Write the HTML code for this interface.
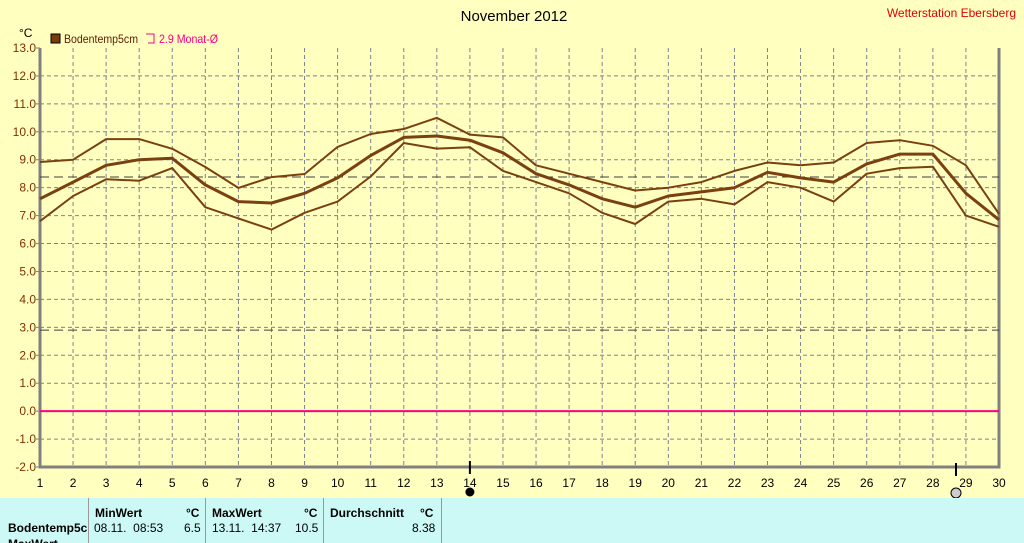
<!DOCTYPE html>
<html><head><meta charset="utf-8"><style>
body{margin:0;width:1024px;height:543px;overflow:hidden;background:#ffffc0;font-family:"Liberation Sans",sans-serif;}
#wrap{position:relative;width:1024px;height:543px;overflow:hidden;}
.tbl{position:absolute;left:0;top:498px;width:1024px;height:45px;background:#ccf9f6;font-size:12px;overflow:hidden;}
.t{position:absolute;white-space:nowrap;}
.b{font-weight:bold;}
.vl{position:absolute;top:0;width:1px;height:45px;background:#999;}
</style></head><body>
<div id="wrap">
<svg id="chart" width="1024" height="498" style="position:absolute;left:0;top:0"></svg>
<div class="tbl">
<div class="t b" style="left:8px;top:23px;width:80px;overflow:hidden">Bodentemp5cm</div>
<div class="t b" style="left:8px;top:39px">MaxWert</div>
<div class="vl" style="left:88px"></div><div class="vl" style="left:205px"></div><div class="vl" style="left:323px"></div><div class="vl" style="left:441px"></div>
<div class="t b" style="left:95px;top:8px">MinWert</div>
<div class="t b" style="left:186px;top:8px">°C</div>
<div class="t b" style="left:212px;top:8px">MaxWert</div>
<div class="t b" style="left:304px;top:8px">°C</div>
<div class="t b" style="left:330px;top:8px">Durchschnitt</div>
<div class="t b" style="left:420px;top:8px">°C</div>
<div class="t" style="left:94px;top:23px">08.11.&nbsp; 08:53</div>
<div class="t" style="left:184px;top:23px">6.5</div>
<div class="t" style="left:212px;top:23px">13.11.&nbsp; 14:37</div>
<div class="t" style="left:295px;top:23px">10.5</div>
<div class="t" style="left:412px;top:23px">8.38</div>
</div>
</div>
<script>
const days=[1,2,3,4,5,6,7,8,9,10,11,12,13,14,15,16,17,18,19,20,21,22,23,24,25,26,27,28,29,30];
const maxVals=[8.92,9.0,9.74,9.74,9.39,8.74,7.99,8.38,8.49,9.46,9.92,10.1,10.5,9.9,9.8,8.8,8.5,8.2,7.9,8.0,8.2,8.6,8.9,8.8,8.9,9.6,9.7,9.5,8.8,7.06];
const meanVals=[7.6,8.2,8.8,9.0,9.05,8.1,7.5,7.45,7.8,8.35,9.15,9.8,9.85,9.7,9.25,8.5,8.1,7.6,7.3,7.7,7.85,8.0,8.55,8.35,8.2,8.85,9.2,9.2,7.8,6.85];
const minVals=[6.8,7.7,8.3,8.25,8.7,7.3,6.9,6.5,7.1,7.5,8.4,9.6,9.4,9.45,8.6,8.2,7.8,7.1,6.7,7.5,7.6,7.4,8.2,8.0,7.5,8.5,8.7,8.75,7.0,6.6];
const yTicks=[13,12,11,10,9,8,7,6,5,4,3,2,1,0,-1,-2];
const monthAvg=8.38, refLine=2.9;
const L=40,R=999,T=48,B=467;
const x=d=>L+(d-1)*(R-L)/29;
const y=v=>B-(v+2)*(B-T)/15;
const svg=document.getElementById('chart');
const NS='http://www.w3.org/2000/svg';
function mk(tag,at,txt){const e=document.createElementNS(NS,tag);for(const k in at)e.setAttribute(k,at[k]);if(txt!==undefined)e.textContent=txt;svg.appendChild(e);return e;}
let e;
e=mk('text',{x:514,y:21,'font-size':15,'text-anchor':'middle',fill:'#000'},'November 2012');


e=mk('text',{x:1016,y:17,'font-size':12,'text-anchor':'end',fill:'#e00000'},'Wetterstation Ebersberg');


e=mk('text',{x:19,y:37,'font-size':12,fill:'#000'},'°C');


e=mk('rect',{x:51,y:34,width:9,height:9,fill:'#7a3c08',stroke:'#000'});


e=mk('text',{x:64,y:43,'font-size':12,fill:'#602000',textLength:74,lengthAdjust:'spacingAndGlyphs'},'Bodentemp5cm');


e=mk('path',{d:'M146 34 H154 V43 H148',fill:'none',stroke:'#ff0080'});


e=mk('text',{x:159,y:43,'font-size':12,fill:'#ff0080',textLength:59,lengthAdjust:'spacingAndGlyphs'},'2.9 Monat-Ø');


days.forEach(d=>{
 if(d>1&&d<30){e=mk('line',{x1:x(d),x2:x(d),y1:T,y2:B,stroke:'#808090','stroke-dasharray':'4,3'});
 
 }
 e=mk('text',{x:x(d),y:487,'font-size':12,'text-anchor':'middle',fill:'#000'},String(d));
 
 
});
yTicks.forEach(v=>{
 if(v<13&&v>-2){e=mk('line',{x1:L,x2:R,y1:y(v),y2:y(v),stroke:'#808090','stroke-dasharray':'4,3'});
 
 }
 e=mk('line',{x1:L-4,x2:L,y1:y(v),y2:y(v),stroke:'#808080'});
 e=mk('text',{x:L-4,y:y(v)+4,'font-size':12,'text-anchor':'end',fill:'#803000'},v.toFixed(1));
 
 
});
e=mk('path',{d:`M${L} ${T} V${B} H${R} V${T}`,fill:'none',stroke:'#808080','stroke-width':3});


e=mk('line',{x1:L,x2:R,y1:y(monthAvg),y2:y(monthAvg),stroke:'#404040','stroke-dasharray':'9,5'});


e=mk('line',{x1:L,x2:R,y1:y(refLine),y2:y(refLine),stroke:'#404040','stroke-dasharray':'9,5'});


e=mk('line',{x1:L,x2:R,y1:y(0),y2:y(0),stroke:'#ff0080','stroke-width':2});


function series(vals,w,name){const d=vals.map((v,i)=>(i?'L':'M')+x(days[i]).toFixed(1)+' '+y(v).toFixed(1)).join(' ');
 const p=mk('path',{d:d,fill:'none',stroke:'#7a4010','stroke-width':w,'stroke-linejoin':'round'});
 
 }
series(maxVals,2,'max-series');
series(minVals,2,'min-series');
series(meanVals,3,'mean-series');
mk('line',{x1:x(14),x2:x(14),y1:461,y2:474,stroke:'#000','stroke-width':2});
e=mk('circle',{cx:x(14),cy:492,r:4.5,fill:'#000'});


mk('line',{x1:956,x2:956,y1:463,y2:476,stroke:'#000','stroke-width':2});
e=mk('circle',{cx:956,cy:493,r:5,fill:'#ccc',stroke:'#000'});


</script>
</body></html>
